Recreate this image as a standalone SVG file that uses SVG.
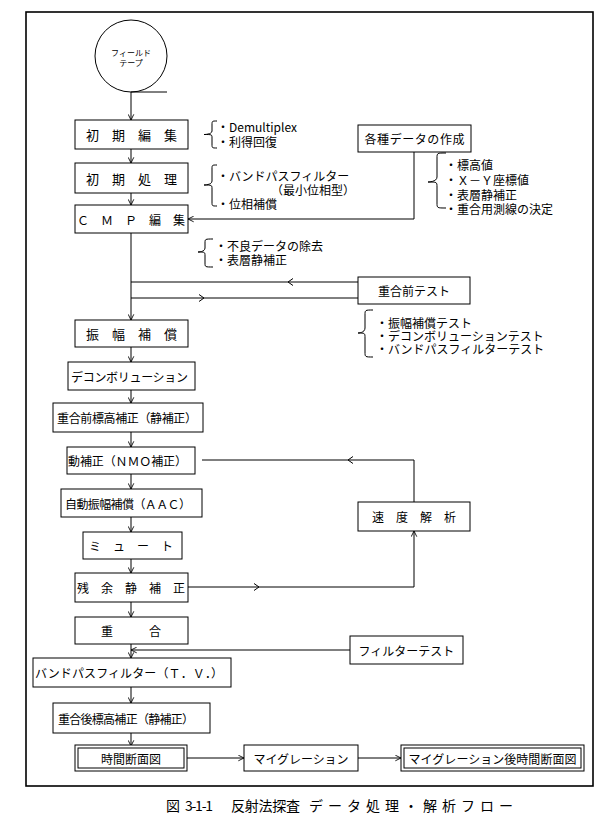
<svg xmlns="http://www.w3.org/2000/svg" width="612" height="824" viewBox="0 0 612 824">
<style>
.b{fill:#fff;stroke:#000;stroke-width:1}
.t{font-family:"Noto Sans CJK JP","Noto Sans",sans-serif;font-size:12px;fill:#000;dominant-baseline:central}
.m{text-anchor:middle}
.c{fill:none;stroke:#000;stroke-width:1}
.br{fill:none;stroke:#000;stroke-width:1}
</style>
<defs>
<marker id="ah" viewBox="0 0 8 8" refX="7.5" refY="4" markerWidth="7" markerHeight="7" markerUnits="userSpaceOnUse" orient="auto">
<path d="M1,0.8 L7.5,4 L1,7.2" fill="none" stroke="#000" stroke-width="1"/>
</marker>
<marker id="mid" viewBox="0 0 8 8" refX="4" refY="4" markerWidth="8" markerHeight="8" markerUnits="userSpaceOnUse" orient="auto">
<path d="M1,0.5 L6,4 L1,7.5" fill="none" stroke="#000" stroke-width="1"/>
</marker>
</defs>
<rect x="0" y="0" width="612" height="824" fill="#fff"/>
<rect id="frame" x="26" y="12" width="567" height="774" fill="none" stroke="#000" stroke-width="1.6"/>

<g id="connectors">
<path class="c" d="M131,92 V120" marker-end="url(#ah)"/>
<path class="c" d="M131,149 V163" marker-end="url(#ah)"/>
<path class="c" d="M131,193 V205" marker-end="url(#ah)"/>
<path class="c" d="M414,152 V219 H188" marker-end="url(#ah)"/>
<path class="c" d="M131,233 V320" marker-end="url(#ah)"/>
<path class="c" d="M358,282 L290,282 L131,282" marker-mid="url(#mid)"/>
<path class="c" d="M131,298 L202,298 L358,298" marker-mid="url(#mid)"/>
<path class="c" d="M131,347 V362" marker-end="url(#ah)"/>
<path class="c" d="M131,390 V403" marker-end="url(#ah)"/>
<path class="c" d="M131,432 V447" marker-end="url(#ah)"/>
<path class="c" d="M131,474 V489" marker-end="url(#ah)"/>
<path class="c" d="M131,517 V532" marker-end="url(#ah)"/>
<path class="c" d="M131,559 V573" marker-end="url(#ah)"/>
<path class="c" d="M131,602 V617" marker-end="url(#ah)"/>
<path class="c" d="M131,644 V658" marker-end="url(#ah)"/>
<path class="c" d="M350,650 H131" marker-end="url(#ah)"/>
<path class="c" d="M131,687 V703" marker-end="url(#ah)"/>
<path class="c" d="M131,733 V746" marker-end="url(#ah)"/>
<path class="c" d="M187,758 H244" marker-end="url(#ah)"/>
<path class="c" d="M358,758 H401" marker-end="url(#ah)"/>
<path class="c" d="M414,502 V460"/>
<path class="c" d="M414,460 L350,460 L202,460" marker-mid="url(#mid)"/>
<path class="c" d="M188,587 L257,587 L414,587" marker-mid="url(#mid)"/>
<path class="c" d="M414,587 V531" marker-end="url(#ah)"/>
</g>

<g id="tape">
<circle cx="131" cy="56" r="36" fill="#fff" stroke="#000" stroke-width="1"/>
<line x1="131" y1="92" x2="167" y2="92" stroke="#000" stroke-width="1"/>
<text class="t m" x="131" y="52" style="font-size:8px">フィールド</text>
<text class="t m" x="131" y="62" style="font-size:8px">テープ</text>
</g>

<g id="n1"><rect class="b" x="75" y="120" width="113" height="29"/><text class="t m" x="131.5" y="134.5" style="font-size:13px">初　期　編　集</text></g>
<g id="n2"><rect class="b" x="75" y="163" width="113" height="30"/><text class="t m" x="131.5" y="178" style="font-size:13px">初　期　処　理</text></g>
<g id="n3"><rect class="b" x="75" y="205" width="113" height="28"/><text class="t" x="77" y="219">Ｃ　Ｍ　Ｐ　編　集</text></g>
<g id="n4"><rect class="b" x="358" y="125" width="113" height="27"/><text class="t m" x="414.5" y="138.5" textLength="100">各種データの作成</text></g>
<g id="n5"><rect class="b" x="358" y="277" width="112" height="27"/><text class="t m" x="414" y="290.5">重合前テスト</text></g>
<g id="n6"><rect class="b" x="75" y="320" width="113" height="27"/><text class="t m" x="131.5" y="333.5" style="font-size:13px">振　幅　補　償</text></g>
<g id="n7"><rect class="b" x="68" y="362" width="127" height="28"/><text class="t" x="71" y="376" textLength="117">デコンボリューション</text></g>
<g id="n8"><rect class="b" x="53" y="403" width="150" height="29"/><text class="t" x="57" y="417.5" textLength="140">重合前標高補正（静補正）</text></g>
<g id="n9"><rect class="b" x="67" y="447" width="128" height="27"/><text class="t" x="68" y="460.5" textLength="119">動補正（ＮＭＯ補正）</text></g>
<g id="n10"><rect class="b" x="61" y="489" width="141" height="28"/><text class="t" x="65" y="503" textLength="126">自動振幅補償（ＡＡＣ）</text></g>
<g id="n11"><rect class="b" x="83" y="532" width="99" height="27"/><text class="t m" x="131" y="545.5">ミ　ュ　ー　ト</text></g>
<g id="n12"><rect class="b" x="358" y="502" width="112" height="29"/><text class="t" x="372" y="516.5">速　度　解　析</text></g>
<g id="n13"><rect class="b" x="75" y="573" width="113" height="29"/><text class="t" x="77" y="587.5">残　余　静　補　正</text></g>
<g id="n14"><rect class="b" x="75" y="617" width="113" height="27"/><text class="t m" x="131" y="630.5">重　　　合</text></g>
<g id="n15"><rect class="b" x="350" y="636" width="113" height="28"/><text class="t m" x="406.5" y="650">フィルターテスト</text></g>
<g id="n16"><rect class="b" x="33" y="658" width="198" height="29"/><text class="t" x="35" y="672.5" textLength="188">バンドパスフィルター（Ｔ．Ｖ．）</text></g>
<g id="n17"><rect class="b" x="53" y="703" width="157" height="30"/><text class="t" x="58" y="718" textLength="136">重合後標高補正（静補正）</text></g>
<g id="n18"><rect class="b" x="75" y="745" width="112" height="26"/><rect class="b" x="78" y="748" width="106" height="20"/><text class="t m" x="131" y="758">時間断面図</text></g>
<g id="n19"><rect class="b" x="244" y="745" width="114" height="26"/><text class="t m" x="301" y="758" textLength="95">マイグレーション</text></g>
<g id="n20"><rect class="b" x="401" y="745" width="183" height="26"/><rect class="b" x="404" y="748" width="177" height="20"/><text class="t m" x="492.5" y="758" textLength="168">マイグレーション後時間断面図</text></g>

<g id="notes">
<path class="br" d="M217,121 C212,121 212,121 212,125 L212,131 C212,134.5 204,134.5 204,134.5 C212,134.5 212,134.5 212,138 L212,144 C212,148 212,148 217,148"/>
<text class="t" x="217" y="126">・Demultiplex</text>
<text class="t" x="217" y="141">・利得回復</text>
<path class="br" d="M217,165 C212,165 212,165 212,169 L212,181 C212,185 204,185 204,185 C212,185 212,185 212,189 L212,202 C212,206 212,206 217,206"/>
<text class="t" x="217" y="175">・バンドパスフィルター</text>
<text class="t" x="271" y="189">（最小位相型）</text>
<text class="t" x="217" y="203">・位相補償</text>
<path class="br" d="M446,153 C437,153 437,153 437,158 L437,177 C437,182 428,182 428,182 C437,182 437,182 437,187 L437,203 C437,208 437,208 446,208"/>
<text class="t" x="445" y="164">・標高値</text>
<text class="t" x="445" y="179">・Ｘ－Ｙ座標値</text>
<text class="t" x="445" y="194">・表層静補正</text>
<text class="t" x="445" y="208">・重合用測線の決定</text>
<path class="br" d="M213,239 C205,239 205,239 205,243 L205,248 C205,252 198,252 198,252 C205,252 205,252 205,256 L205,263 C205,267 205,267 213,267"/>
<text class="t" x="215" y="245">・不良データの除去</text>
<text class="t" x="215" y="259">・表層静補正</text>
<path class="br" d="M373,310 C365,310 365,310 365,315 L365,328 C365,333 358,333 358,333 C365,333 365,333 365,338 L365,352 C365,357 365,357 373,357"/>
<text class="t" x="376" y="322">・振幅補償テスト</text>
<text class="t" x="376" y="335">・デコンボリューションテスト</text>
<text class="t" x="376" y="348">・バンドパスフィルターテスト</text>
</g>

<g id="caption">
<text class="t" x="166" y="805" style="font-size:14px">図</text>
<text class="t" x="185" y="805" style="font-size:14px" textLength="28">3-1-1</text>
<text class="t" x="231" y="805" style="font-size:14px" textLength="69">反射法探査</text>
<text class="t" x="309" y="805" style="font-size:14px" textLength="204">データ処理・解析フロー</text>
</g>
</svg>
